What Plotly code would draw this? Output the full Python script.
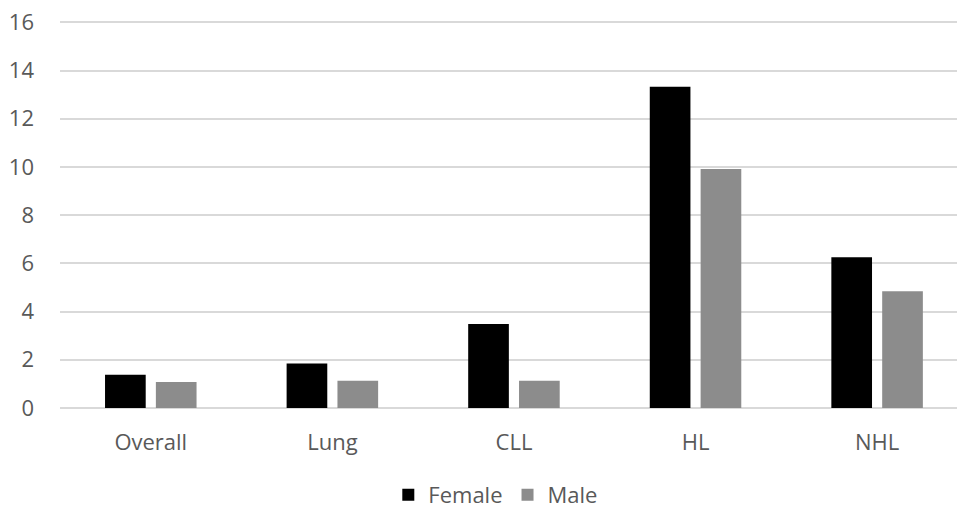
import plotly.graph_objects as go

categories = ["Overall", "Lung", "CLL", "HL", "NHL"]
female = [1.38, 1.85, 3.49, 13.33, 6.25]
male = [1.08, 1.13, 1.13, 9.92, 4.84]
y_ticks = [0, 2, 4, 6, 8, 10, 12, 14, 16]

fig = go.Figure()
fig.add_trace(go.Bar(name="Female", x=categories, y=female,
                     marker=dict(color="#000000", line=dict(width=0))))
fig.add_trace(go.Bar(name="Male", x=categories, y=male,
                     marker=dict(color="#8c8c8c", line=dict(width=0))))

fig.update_layout(
    width=957, height=510,
    paper_bgcolor="white", plot_bgcolor="white",
    barmode="group", bargap=0.44, bargroupgap=0.2,
    margin=dict(l=60, r=0, t=18, b=102, autoexpand=False),
    font=dict(family="Open Sans", size=22, color="#595959"),
    showlegend=True,
    legend=dict(orientation="h", x=0.366, xanchor="left", y=-0.277, yanchor="bottom",
                font=dict(size=22, color="#595959"), traceorder="normal",
                itemwidth=30),
    xaxis=dict(range=[-0.5, 4.44], showgrid=False, showline=False, ticks="",
               automargin=False, ticklabelstandoff=19,
               tickfont=dict(size=22, color="#595959")),
    yaxis=dict(range=[0, 16.18], tickvals=y_ticks, showgrid=True,
               gridcolor="#d9d9d9", gridwidth=2, zeroline=True,
               zerolinecolor="#d9d9d9", zerolinewidth=2, showline=False,
               ticks="", ticklabelstandoff=25, automargin=False,
               ticklabeloverflow="allow",
               tickfont=dict(size=22, color="#595959")),
)

fig.write_html(
    "out.html",
    config={"displayModeBar": False},
    post_script="document.body.style.margin='0';document.body.style.overflow='hidden';",
)
